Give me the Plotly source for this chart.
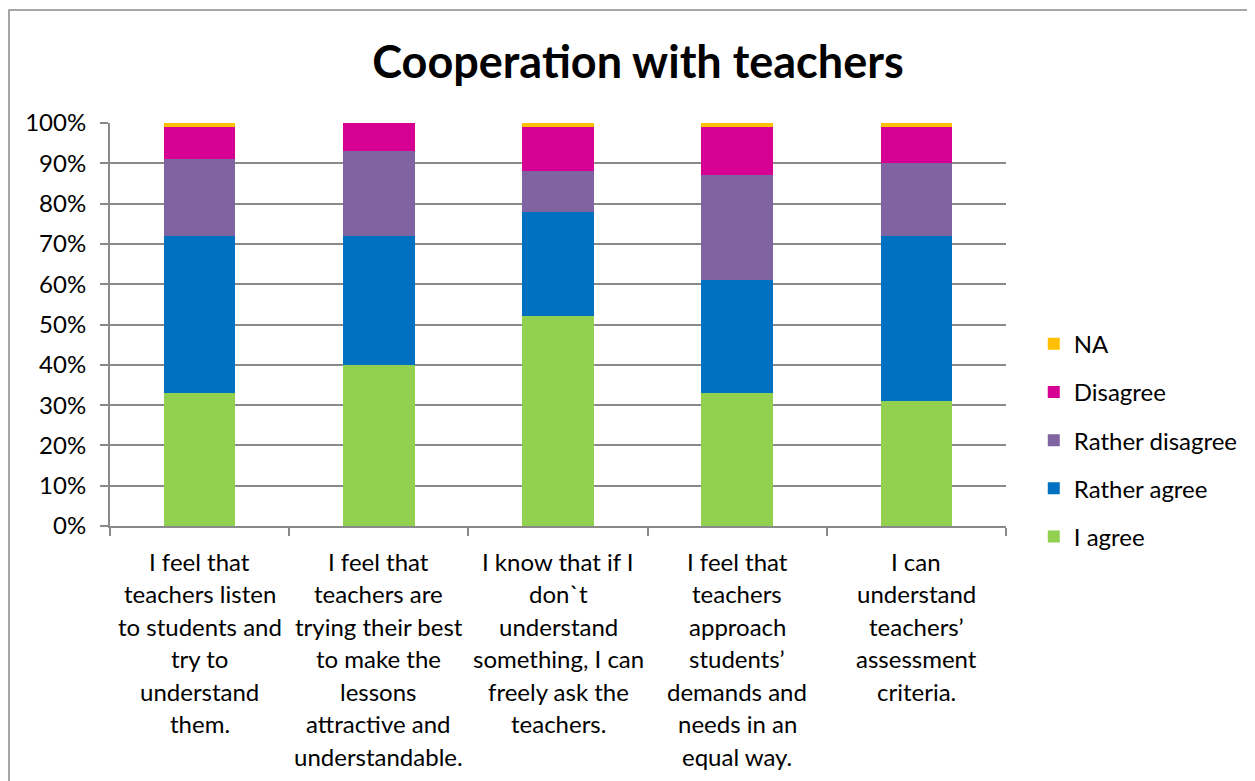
import plotly.graph_objects as go

title = "Cooperation with teachers"
categories = [
    "I feel that\nteachers listen\nto students and\ntry to\nunderstand\nthem.",
    "I feel that\nteachers are\ntrying their best\nto make the\nlessons\nattractive and\nunderstandable.",
    "I know that if I\ndon`t\nunderstand\nsomething, I can\nfreely ask the\nteachers.",
    "I feel that\nteachers\napproach\nstudents’\ndemands and\nneeds in an\nequal way.",
    "I can\nunderstand\nteachers’\nassessment\ncriteria.",
]
series_names = ["I agree", "Rather agree", "Rather disagree", "Disagree", "NA"]
i_agree = [33, 40, 52, 33, 31]
rather_agree = [39, 32, 26, 28, 41]
rather_disagree = [19, 21, 10, 26, 18]
disagree = [8, 7, 11, 12, 9]
na = [1, 0, 1, 1, 1]
series_values = [i_agree, rather_agree, rather_disagree, disagree, na]
colors = ["#92D050", "#0070C0", "#8064A2", "#D60093", "#FFC000"]
ytick_vals = [0, 10, 20, 30, 40, 50, 60, 70, 80, 90, 100]
ytick_text = ["0%", "10%", "20%", "30%", "40%", "50%", "60%", "70%", "80%", "90%", "100%"]

FONT = "Lato"
FS = 24
cat_ids = list(range(len(categories)))
boundaries = [c - 0.5 for c in cat_ids] + [cat_ids[-1] + 0.5]

fig = go.Figure()
n = len(series_names)
for k, (name, vals, col) in enumerate(zip(series_names, series_values, colors)):
    fig.add_trace(go.Bar(
        x=cat_ids, y=vals, name=name, marker=dict(color=col, line=dict(width=0)),
        legendgroup=name, legendrank=(n - k) * 10,
    ))

# multi-line category labels (line spacing like the original)
for cid, lab in zip(cat_ids, categories):
    for i, line in enumerate(lab.split("\n")):
        fig.add_annotation(
            x=cid, xref="x", y=0, yref="paper", yanchor="middle",
            yshift=-(35 + 32.5 * i), text=line, showarrow=False,
            font=dict(family=FONT, size=FS, color="#000000"),
        )

L, T, PW, PH = 102, 115, 896, 403
fig.update_layout(
    width=1255, height=781,
    barmode="stack", bargap=0.6,
    paper_bgcolor="white", plot_bgcolor="white",
    margin=dict(l=L, r=1255 - L - PW, t=T, b=781 - T - PH),
    title=dict(text="<b>" + title + "</b>", x=0.502, xanchor="center", y=0.931, yanchor="middle",
               font=dict(family=FONT, size=45, color="#000000")),
    font=dict(family=FONT, size=FS, color="#000000"),
    legend=dict(x=1.031, xanchor="left", y=0.213, yanchor="middle", traceorder="grouped",
                tracegroupgap=14, font=dict(family=FONT, size=FS, color="#000000"),
                itemwidth=30, bgcolor="rgba(0,0,0,0)"),
    xaxis=dict(tickvals=boundaries, showticklabels=False, range=[-0.5, len(categories) - 0.5],
               showline=True, linecolor="#898989", linewidth=2, ticks="outside",
               ticklen=8, tickcolor="#898989", tickwidth=2,
               showgrid=False, zeroline=False),
    yaxis=dict(range=[0, 100], tickvals=ytick_vals, ticktext=ytick_text,
               showline=True, linecolor="#898989", linewidth=2, ticks="outside",
               ticklen=8, tickcolor="#898989", tickwidth=2, ticklabelstandoff=9,
               showgrid=True, gridcolor="#898989", gridwidth=2, zeroline=False,
               tickfont=dict(family=FONT, size=FS, color="#000000")),
    shapes=[dict(type="rect", xref="paper", yref="paper",
                 x0=(1 - L) / PW, x1=(1270 - L) / PW,
                 y0=(T + PH - 800) / PH, y1=(T + PH - 2) / PH,
                 line=dict(color="#898989", width=1.5), fillcolor="rgba(0,0,0,0)", layer="below")],
)

fig.write_html("out.html")
